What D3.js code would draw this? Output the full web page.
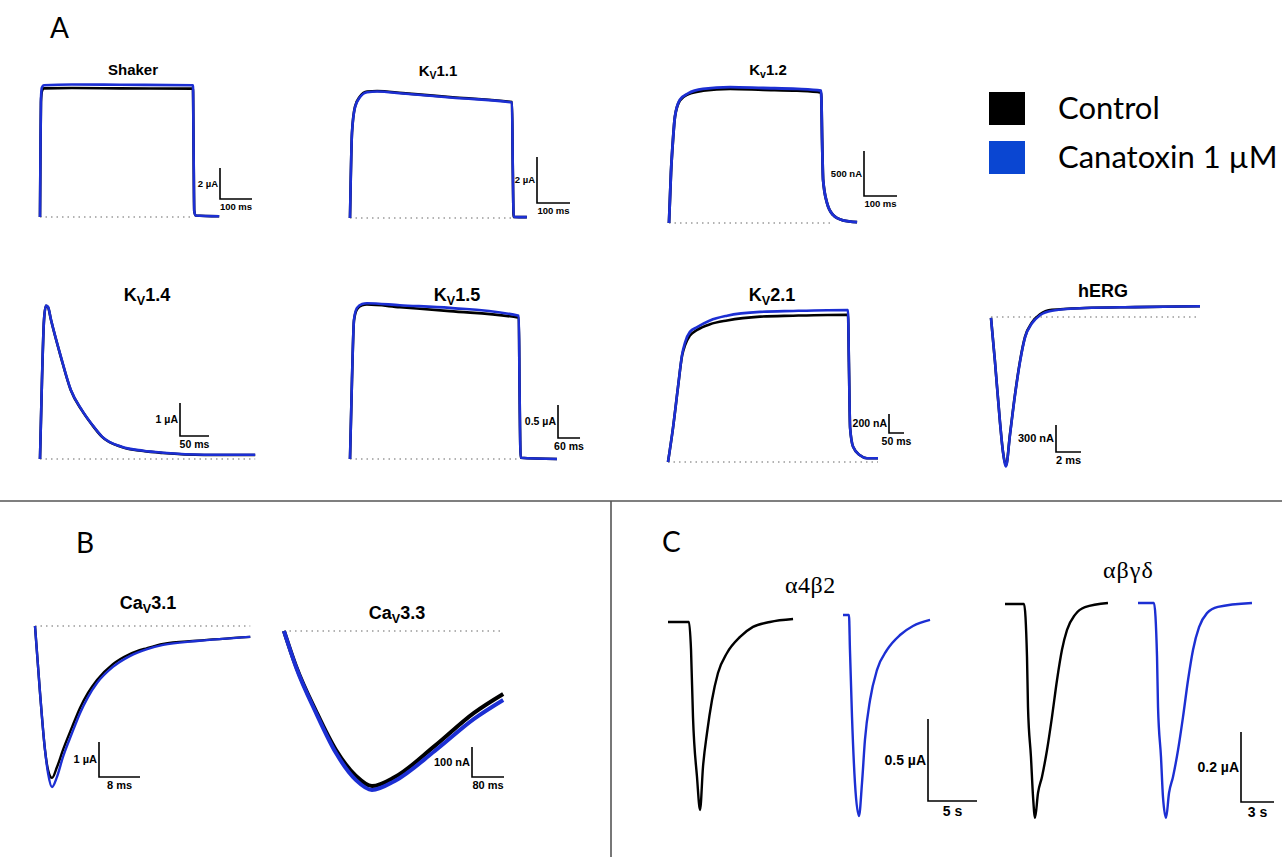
<!DOCTYPE html>
<html>
<head>
<meta charset="utf-8">
<script src="https://cdn.jsdelivr.net/npm/d3@7"></script>
<style>
body { margin: 0; background: #fff; }
.bar-label { font-family: "Liberation Sans", Arial, sans-serif; font-weight: bold; fill: #000; }
.title { font-family: "Liberation Sans", Arial, sans-serif; font-weight: bold; fill: #000; }
</style>
</head>
<body>
<script>
//Traces: [time, current]. Time in ms (s for panel C), current in uA

//Panel A, row 1
var shakerCtrl = [[0,0],[1.5,4.3],[3,7.4],[6,8.1],[12,8.3],[100,8.32],[250,8.3],[478,8.28],[480,4.2],[482,0.4],[486,0.1],[560,0.05]];
var shakerTox  = [[0,0],[1.5,4.4],[3,7.6],[6,8.35],[12,8.5],[100,8.55],[250,8.53],[478,8.5],[480,4.2],[482,0.4],[486,0.1],[560,0.05]];
var kv11Ctrl = [[0,0],[2,1.5],[6,3.7],[15,4.83],[30,5.28],[52,5.5],[82,5.52],[160,5.43],[320,5.24],[491,5.04],[493,2.5],[496,0.05],[536,0.04]];
var kv11Tox  = [[0,0],[2,1.5],[6,3.7],[15,4.8],[30,5.25],[52,5.47],[82,5.5],[160,5.41],[320,5.22],[491,5.02],[493,2.5],[496,0.05],[536,0.04]];
var kv12Ctrl = [[0,0],[6,0.56],[12,0.92],[18,1.18],[33,1.36],[58,1.43],[103,1.47],[185,1.49],[285,1.48],[388,1.47],[461,1.45],[464,0.92],[467,0.48],[479,0.22],[497,0.09],[527,0.03],[570,0.01]];
var kv12Tox  = [[0,0],[6,0.56],[12,0.92],[18,1.18],[33,1.37],[58,1.44],[103,1.49],[185,1.51],[285,1.5],[388,1.49],[461,1.47],[464,0.92],[467,0.48],[479,0.22],[497,0.09],[527,0.03],[570,0.01]];

//Panel A, row 2
var kv14Ctrl = [[0,0],[3.4,2.39],[6.9,4.21],[10.3,4.64],[13.8,4.6],[19,4.21],[36,3.09],[53,2.09],[72,1.48],[90,1.03],[107,0.67],[141,0.36],[178,0.24],[212,0.18],[283,0.12],[371,0.12]];
var kv14Tox  = [[0,0],[3.4,2.39],[6.9,4.21],[10.3,4.65],[13.8,4.61],[19,4.22],[36,3.1],[53,2.1],[72,1.49],[90,1.04],[107,0.68],[141,0.37],[178,0.25],[212,0.19],[283,0.13],[371,0.13]];
var kv15Ctrl = [[0,0],[5.4,1.2],[10.9,2.1],[19,2.27],[33,2.33],[46,2.34],[136,2.3],[272,2.24],[460,2.14],[462,1.05],[465,0.02],[564,0]];
var kv15Tox  = [[0,0],[5.4,1.2],[10.9,2.11],[19,2.29],[33,2.35],[46,2.36],[136,2.33],[272,2.29],[460,2.17],[462,1.05],[465,0.02],[564,0]];
var kv21Ctrl = [[0,0],[16.7,0.36],[33,0.78],[47,1.12],[57,1.23],[73,1.33],[97,1.39],[140,1.45],[197,1.49],[307,1.53],[417,1.54],[600,1.55],[603,1.05],[607,0.36],[617,0.16],[640,0.07],[663,0.04],[700,0.04]];
var kv21Tox  = [[0,0],[16.7,0.36],[33,0.78],[47,1.13],[57,1.26],[73,1.37],[97,1.42],[140,1.49],[197,1.54],[307,1.58],[417,1.59],[600,1.6],[603,1.05],[607,0.36],[617,0.16],[640,0.07],[663,0.04],[700,0.04]];
var hergCtrl = [[0,-0.01],[0.32,-0.5],[0.72,-1.17],[0.96,-1.5],[1.2,-1.65],[1.52,-1.3],[1.92,-0.86],[2.32,-0.49],[2.72,-0.22],[3.28,-0.06],[3.92,0.03],[4.88,0.08],[7.52,0.1],[11.52,0.11],[16.72,0.12]];
var hergTox  = [[0,-0.01],[0.32,-0.5],[0.72,-1.17],[0.96,-1.5],[1.2,-1.66],[1.52,-1.31],[1.92,-0.87],[2.32,-0.5],[2.72,-0.23],[3.28,-0.07],[3.92,0.02],[4.88,0.07],[7.52,0.1],[11.52,0.11],[16.72,0.12]];

//Panel B
var cav31Ctrl = [[0,0],[0.98,-1.91],[1.95,-3.54],[2.54,-4.11],[3.32,-4.34],[4.29,-4.03],[5.46,-3.54],[7.22,-2.89],[8.78,-2.34],[10.34,-1.91],[12.1,-1.54],[15.2,-1.09],[18.5,-0.8],[21.9,-0.63],[25,-0.51],[31.6,-0.42],[42,-0.31]];
var cav31Tox  = [[0,0],[0.98,-1.91],[1.95,-3.54],[2.54,-4.2],[3.32,-4.6],[4.29,-4.31],[5.46,-3.74],[7.22,-3.06],[8.78,-2.49],[10.34,-2.03],[12.1,-1.63],[15.2,-1.17],[18.5,-0.86],[21.9,-0.66],[25,-0.54],[31.6,-0.43],[42,-0.31]];
var cav33Ctrl = [[0,0],[30,-0.117],[80,-0.267],[130,-0.397],[180,-0.483],[220,-0.517],[277,-0.487],[377,-0.383],[475,-0.273],[548,-0.21]];
var cav33Tox  = [[0,0],[30,-0.12],[80,-0.273],[130,-0.407],[180,-0.497],[220,-0.53],[277,-0.5],[377,-0.4],[475,-0.293],[548,-0.23]];

//Panel C (time in s)
var a4b2Ctrl = [[0,0],[2.14,0],[2.35,-0.171],[2.55,-0.579],[2.96,-0.945],[3.27,-1.146],[3.57,-0.884],[3.98,-0.677],[4.49,-0.476],[5.1,-0.311],[6.02,-0.189],[7.35,-0.091],[8.67,-0.03],[10.4,0],[12.76,0.018]];
var a4b2Tox  = [[0,0],[0.61,0],[0.71,-0.213],[0.92,-0.622],[1.22,-1.024],[1.63,-1.226],[1.94,-1.024],[2.24,-0.762],[2.76,-0.518],[3.47,-0.335],[4.49,-0.213],[5.82,-0.122],[7.14,-0.067],[8.88,-0.03]];
var abgdCtrl = [[0,0],[1.73,0],[2.0,-0.151],[2.09,-0.294],[2.36,-0.437],[2.55,-0.551],[2.73,-0.611],[3.0,-0.54],[3.36,-0.494],[3.82,-0.417],[4.27,-0.323],[4.73,-0.217],[5.18,-0.131],[5.64,-0.074],[6.36,-0.031],[7.27,-0.009],[9.36,0.003]];
var abgdTox  = [[0,0],[1.45,0],[1.73,-0.154],[1.82,-0.297],[2.09,-0.44],[2.27,-0.554],[2.55,-0.614],[2.82,-0.543],[3.18,-0.497],[3.64,-0.42],[4.09,-0.326],[4.55,-0.22],[5.0,-0.134],[5.55,-0.069],[6.27,-0.029],[7.27,-0.011],[10.36,0]];

//Legend entries
var legendLabels = ["Control", "Canatoxin 1 \u00b5M"];
var legendColors = ["#000000", "#0a46d2"];

var ctrlColor = "#000";
var toxColor = "#1c2fd3";

//Width and height
var w = 1282;
var h = 857;

var svg = d3.select("body")
            .append("svg")
            .attr("width", w)
            .attr("height", h);

//Layout of each recording: x0/y0 = pixel origin, kx/ky = pixels per unit
//bar = scale bar corner and values
var panels = [
    {title: ["Shaker"], size: 15, tx: 133, ty: 75, traces: [shakerCtrl, shakerTox], x0: 40, y0: 217, kx: 0.32, ky: 15.5, base: 478, width: 2.6,
     bar: {x: 220, y: 199, i: 2, t: 100, iLab: "2 \u00b5A", tLab: "100 ms", fs: 9.5}},
    {title: ["K", "V", "1.1"], size: 15, tx: 438, ty: 76, traces: [kv11Ctrl, kv11Tox], x0: 350, y0: 218, kx: 0.33, ky: 23, base: 491, width: 2.6,
     bar: {x: 537, y: 203, i: 2, t: 100, iLab: "2 \u00b5A", tLab: "100 ms", fs: 9.5}},
    {title: ["K", "v", "1.2"], size: 15, tx: 768, ty: 75, traces: [kv12Ctrl, kv12Tox], x0: 669, y0: 223, kx: 0.33, ky: 90, base: 500, width: 2.8,
     bar: {x: 864, y: 196, i: 0.5, t: 100, iLab: "500 nA", tLab: "100 ms", fs: 9.5}},
    {title: ["K", "V", "1.4"], size: 18, tx: 147, ty: 301, traces: [kv14Ctrl, kv14Tox], x0: 40, y0: 459, kx: 0.58, ky: 33, base: 371, width: 2.6,
     bar: {x: 180, y: 436, i: 1, t: 50, iLab: "1 \u00b5A", tLab: "50 ms", fs: 10.5}},
    {title: ["K", "V", "1.5"], size: 18, tx: 457, ty: 301, traces: [kv15Ctrl, kv15Tox], x0: 350, y0: 459, kx: 0.367, ky: 66, base: 460, width: 2.6,
     bar: {x: 558, y: 438, i: 0.5, t: 60, iLab: "0.5 \u00b5A", tLab: "60 ms", fs: 10.5}},
    {title: ["K", "V", "2.1"], size: 18, tx: 772, ty: 301, traces: [kv21Ctrl, kv21Tox], x0: 668, y0: 462, kx: 0.3, ky: 95, base: 700, width: 2.6,
     bar: {x: 889, y: 433, i: 0.2, t: 50, iLab: "200 nA", tLab: "50 ms", fs: 10.5}},
    {title: ["hERG"], size: 18, tx: 1103, ty: 297, traces: [hergCtrl, hergTox], x0: 991, y0: 317, kx: 12.5, ky: 90, base: 16.7, width: 2.6,
     bar: {x: 1056, y: 452, i: 0.3, t: 2, iLab: "300 nA", tLab: "2 ms", fs: 11}},
    {title: ["Ca", "V", "3.1"], size: 18, tx: 148, ty: 609, traces: [cav31Ctrl, cav31Tox], x0: 35, y0: 626, kx: 5.125, ky: 35, base: 42, width: 2.4,
     bar: {x: 99, y: 777, i: 1, t: 8, iLab: "1 \u00b5A", tLab: "8 ms", fs: 11}},
    {title: ["Ca", "V", "3.3"], size: 18, tx: 397, ty: 619, traces: [cav33Ctrl, cav33Tox], x0: 284, y0: 631, kx: 0.4, ky: 300, base: 540, width: 4,
     bar: {x: 472, y: 777, i: 0.1, t: 80, iLab: "100 nA", tLab: "80 ms", fs: 11}}
];

//Panel C: one trace per group, scale bars shared by pairs
var cPanels = [
    {trace: a4b2Ctrl, color: ctrlColor, x0: 668, y0: 622, kx: 9.8, ky: 164},
    {trace: a4b2Tox, color: toxColor, x0: 843, y0: 615, kx: 9.8, ky: 164,
     bar: {x: 928, y: 801, i: 0.5, t: 5, iLab: "0.5 \u00b5A", tLab: "5 s", fs: 14}},
    {trace: abgdCtrl, color: ctrlColor, x0: 1005, y0: 604, kx: 11, ky: 350},
    {trace: abgdTox, color: toxColor, x0: 1138, y0: 603, kx: 11, ky: 350,
     bar: {x: 1241, y: 802, i: 0.2, t: 3, iLab: "0.2 \u00b5A", tLab: "3 s", fs: 14}}
];

function makeScales(p, tMax) {
    var x = d3.scaleLinear().domain([0, tMax]).range([p.x0, p.x0 + p.kx * tMax]);
    var y = d3.scaleLinear().domain([0, 1]).range([p.y0, p.y0 - p.ky]);
    return {x: x, y: y};
}

function drawBar(g, b, s) {
    var len = s.y(0) - s.y(b.i);
    var wid = s.x(b.t) - s.x(0);
    g.append("path")
        .attr("d", "M" + b.x + "," + (b.y - len) + "V" + b.y + "H" + (b.x + wid))
        .attr("fill", "none")
        .attr("stroke", "#000")
        .attr("stroke-width", 1.6);
    g.append("text")
        .attr("class", "bar-label")
        .attr("x", b.x - 2)
        .attr("y", b.y - len / 2 + b.fs * 0.35)
        .attr("text-anchor", "end")
        .style("font-size", b.fs + "px")
        .text(b.iLab);
    g.append("text")
        .attr("class", "bar-label")
        .attr("x", b.x + wid / 2)
        .attr("y", b.y + b.fs + 1)
        .attr("text-anchor", "middle")
        .style("font-size", b.fs + "px")
        .text(b.tLab);
}

panels.forEach(function(p) {
    var tMax = d3.max(p.traces, function(t) { return d3.max(t, function(d) { return d[0]; }); });
    var s = makeScales(p, tMax);
    var g = svg.append("g");

    //dotted zero line
    g.append("line")
        .attr("x1", s.x(0))
        .attr("x2", s.x(p.base))
        .attr("y1", s.y(0))
        .attr("y2", s.y(0))
        .attr("stroke", "#9a9a9a")
        .attr("stroke-width", 1.3)
        .attr("stroke-dasharray", "1.5,4");

    var line = d3.line()
        .x(function(d) { return s.x(d[0]); })
        .y(function(d) { return s.y(d[1]); })
        .curve(d3.curveMonotoneX);

    g.selectAll("path.trace")
        .data(p.traces)
        .enter()
        .append("path")
        .attr("class", "trace")
        .attr("d", line)
        .attr("fill", "none")
        .attr("stroke", function(d, i) { return i == 0 ? ctrlColor : toxColor; })
        .attr("stroke-width", p.width)
        .attr("stroke-linejoin", "round");

    //title, with subscript V where needed
    var t = g.append("text")
        .attr("class", "title")
        .attr("x", p.tx)
        .attr("y", p.ty)
        .attr("text-anchor", "middle")
        .style("font-size", p.size + "px");
    t.append("tspan").text(p.title[0]);
    if (p.title.length > 1) {
        t.append("tspan").attr("dy", p.size * 0.22).style("font-size", (p.size * 0.7) + "px").text(p.title[1]);
        t.append("tspan").attr("dy", -p.size * 0.22).text(p.title[2]);
    }

    drawBar(g, p.bar, s);
});

cPanels.forEach(function(p) {
    var tMax = d3.max(p.trace, function(d) { return d[0]; });
    var s = makeScales(p, tMax);
    var line = d3.line()
        .x(function(d) { return s.x(d[0]); })
        .y(function(d) { return s.y(d[1]); })
        .curve(d3.curveMonotoneX);
    svg.append("path")
        .datum(p.trace)
        .attr("d", line)
        .attr("fill", "none")
        .attr("stroke", p.color)
        .attr("stroke-width", 2.4)
        .attr("stroke-linejoin", "round");
    if (p.bar) drawBar(svg.append("g"), p.bar, s);
});

//Receptor labels
svg.append("text").attr("x", 785).attr("y", 593)
    .style("font-family", "'Liberation Serif', 'DejaVu Serif', serif").style("font-size", "24px")
    .style("letter-spacing", "0.5px")
    .text("\u03b14\u03b22");
svg.append("text").attr("x", 1103).attr("y", 578)
    .style("font-family", "'Liberation Serif', 'DejaVu Serif', serif").style("font-size", "24px")
    .style("letter-spacing", "1px")
    .text("\u03b1\u03b2\u03b3\u03b4");

//Panel letters
var letters = [["A", 50, 38], ["B", 76, 553], ["C", 662, 552]];
svg.selectAll("text.letter")
    .data(letters)
    .enter()
    .append("text")
    .attr("class", "letter")
    .attr("x", function(d) { return d[1]; })
    .attr("y", function(d) { return d[2]; })
    .style("font-family", "Lato, 'Open Sans', sans-serif")
    .style("font-size", "28px")
    .text(function(d) { return d[0]; });

//Dividers
svg.append("line").attr("x1", 0).attr("x2", w).attr("y1", 501).attr("y2", 501)
    .attr("stroke", "#555").attr("stroke-width", 1.6);
svg.append("line").attr("x1", 611).attr("x2", 611).attr("y1", 501).attr("y2", h)
    .attr("stroke", "#555").attr("stroke-width", 1.6);

//Legend
var legend = svg.append("g").attr("transform", "translate(989,92)");
legend.selectAll("rect")
    .data(legendColors)
    .enter()
    .append("rect")
    .attr("x", 0)
    .attr("y", function(d, i) { return i * 49; })
    .attr("width", 36)
    .attr("height", 33)
    .attr("fill", function(d) { return d; });
legend.selectAll("text")
    .data(legendLabels)
    .enter()
    .append("text")
    .attr("x", 69)
    .attr("y", function(d, i) { return 27 + i * 49; })
    .style("font-family", "Lato, 'Open Sans', sans-serif")
    .style("font-size", "31px")
    .text(function(d) { return d; });
</script>
</body>
</html>
